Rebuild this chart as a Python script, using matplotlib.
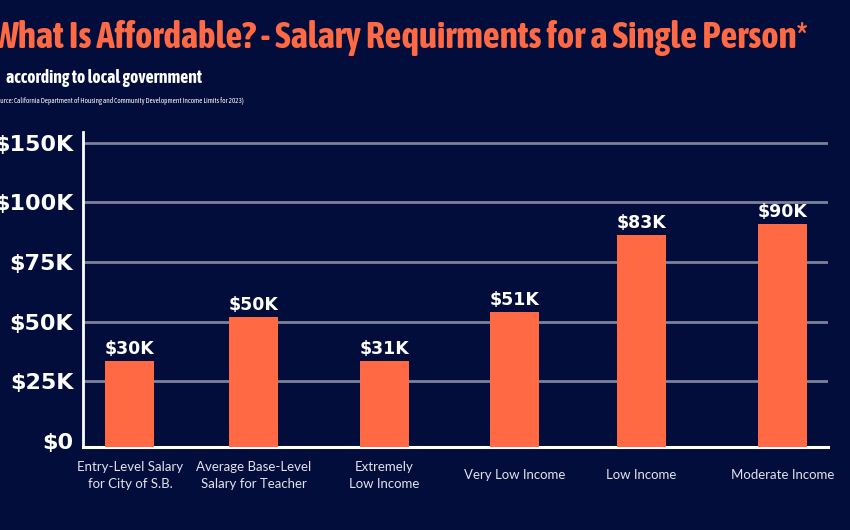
import matplotlib
matplotlib.use("Agg")
import matplotlib.pyplot as plt
from matplotlib import font_manager

# data
categories = ["Entry-Level Salary\nfor City of S.B.", "Average Base-Level\nSalary for Teacher",
              "Extremely\nLow Income", "Very Low Income", "Low Income", "Moderate Income"]
heights = [33.5, 51.8, 33.5, 53.9, 86.3, 91.0]   # bar height, thousands of $
bar_labels = ["$30K", "$50K", "$31K", "$51K", "$83K", "$90K"]
tick_values = [0, 25, 50, 75, 100, 125]
tick_labels = ["$0", "$25K", "$50K", "$75K", "$100K", "$150K"]

BG = "#020d3b"
ORANGE = "#ff6944"
GRID = "#7d8199"

# look for a narrow face (ideally with a bold cut) for the headline
fonts = font_manager.fontManager.ttflist
narrow = sorted({f.name for f in fonts if "Condensed" in f.name or "Narrow" in f.name})
narrow_bold = [n for n in narrow
               if any(f.name == n and f.weight in ("bold", 700, "heavy", 800, 600, "semibold")
                      for f in fonts)]
pick = narrow_bold[:1] or narrow[:1]
title_font = pick + ["Roboto", "DejaVu Sans"]
text_font = ["Lato", "DejaVu Sans"]

fig = plt.figure(figsize=(8.5, 5.3), dpi=100, facecolor=BG)
ax = fig.add_axes([0.0976, 0.1566, 0.8765, 0.5943], facecolor=BG)

# category slots are not evenly spaced in the original
xpos = [0, 0.95, 1.95, 2.95, 3.92, 5.0]
floor = -2.7

bars = ax.bar(xpos, [h - floor for h in heights], bottom=floor, width=0.375,
              color=ORANGE, zorder=3)
for b, lab in zip(bars, bar_labels):
    ax.text(b.get_x() + b.get_width() / 2, b.get_y() + b.get_height() + 1.2, lab,
            ha="center", va="bottom", color="white", fontsize=12.5,
            fontweight="bold", family=["DejaVu Sans"], zorder=4)

ax.set_xlim(-0.36, 5.35)
ax.set_ylim(floor, 129.6)
ax.set_yticks(tick_values)
ax.set_yticklabels(tick_labels)
for t in ax.get_yticklabels():
    t.set_color("white")
    t.set_fontweight("bold")
    t.set_fontsize(16)
ax.tick_params(axis="y", length=0, pad=7)
ax.set_xticks([])

for v in tick_values[1:]:
    ax.axhline(v, color=GRID, lw=2, zorder=1)

for s in ["top", "right"]:
    ax.spines[s].set_visible(False)
ax.spines["left"].set_color("white")
ax.spines["bottom"].set_color("white")
ax.spines["left"].set_linewidth(2)
ax.spines["bottom"].set_linewidth(2.2)

for x, c in zip(xpos, categories):
    ax.text(x, -0.09, c, transform=ax.get_xaxis_transform(), ha="center",
            va="center", color="#e2e2ea", fontsize=9.5, family=text_font,
            linespacing=1.5)

t1 = fig.text(-0.01, 0.909, "What Is Affordable? - Salary Requirments for a Single Person*",
              color=ORANGE, fontsize=22, fontweight="bold", family=title_font,
              va="baseline", ha="left")
t2 = fig.text(0.007, 0.843, "according to local government", color="white",
              fontsize=13.5, fontweight="bold", family=title_font, va="baseline")
t3 = fig.text(-0.01, 0.806,
              "(Source: California Department of Housing and Community Development Income Limits for 2023)",
              color="white", fontsize=6.3, family=title_font, va="baseline")


def fit(txt, right_px, max_size):
    # scale the text so its right edge lands where the reference has it
    r = fig.canvas.get_renderer()
    ext = txt.get_window_extent(r)
    left = ext.x0
    size = txt.get_fontsize() * (right_px - left) / (ext.x1 - left)
    txt.set_fontsize(min(size, max_size))


fig.canvas.draw()
fit(t1, 808, 32)
fit(t2, 203, 18)
fit(t3, 245, 8)

fig.savefig("out.png", dpi=100, facecolor=BG)
